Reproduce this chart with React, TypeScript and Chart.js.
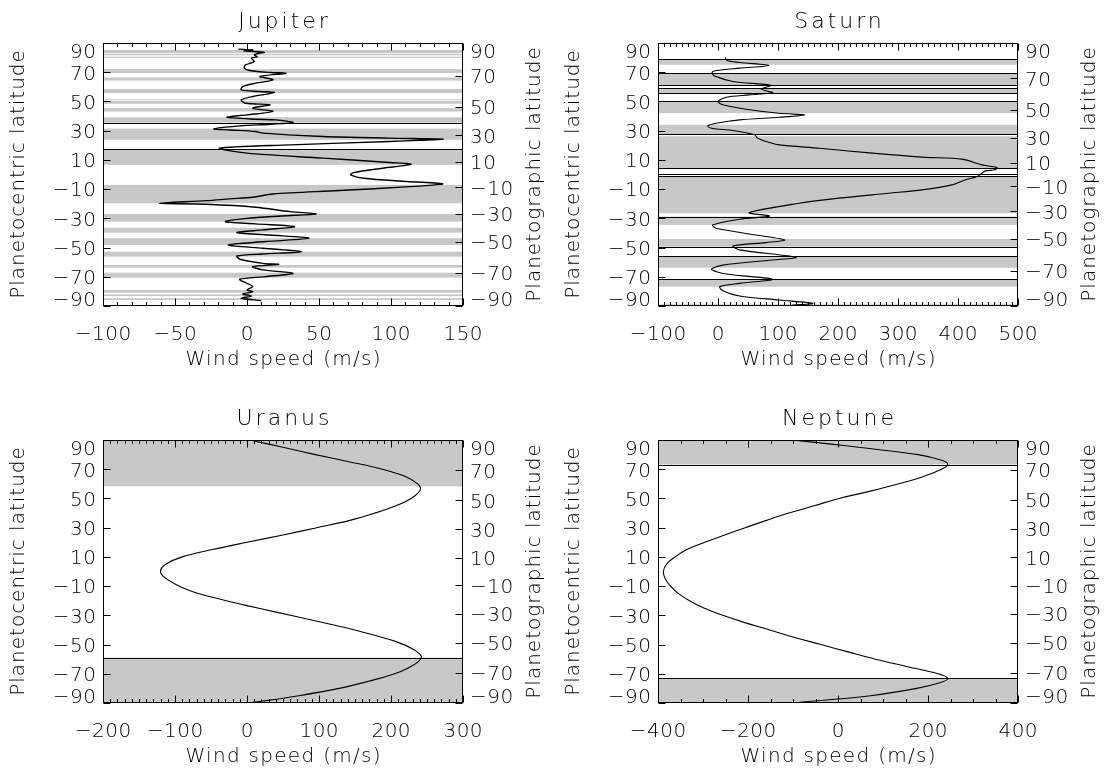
import { useEffect, useRef } from "react";
import { Chart, registerables } from "chart.js";

Chart.register(...registerables);

// ---------------- Jupiter ----------------
const jupiterLat = [
  85.8, 85.2, 84.6, 83.6, 82.9, 81.9, 80.6, 79.6, 77.3, 75.0, 72.8, 71.2, 69.8, 69.3, 67.1, 64.8,
  62.5, 60.2, 57.9, 56.8, 56.1, 53.4, 51.1, 48.8, 47.7, 45.4, 43.2, 40.8, 39.2, 37.8, 37.4, 35.6,
  34.4, 33.3, 31.2, 30.5, 29.4, 28.3, 26.0, 24.9, 24.2, 23.4, 22.6, 20.3, 18.0, 14.6, 11.2, 8.2,
  7.0, 4.3, 1.3, -0.3, -2.6, -4.8, -6.4, -8.3, -11.0, -13.3, -15.6, -16.7, -17.9, -19.7, -20.4,
  -22.4, -25.4, -27.0, -28.4, -30.0, -32.2, -33.8, -35.7, -37.9, -39.8, -41.4, -43.6, -45.9, -48.2,
  -50.5, -52.8, -54.4, -55.8, -58.0, -60.8, -61.5, -63.1, -65.3, -67.6, -69.9, -71.7, -74.5, -76.7,
  -79.0, -80.2, -81.8, -83.2, -84.7, -86.3,
];
const jupiterWind = [
  -6, 4, -2, 12, 8, 5, 7, 3, 5, -1, -2, 2, 16, 27, 9, 18,
  6, -3, -4, 9, 19, 4, -4, -1, 16, 4, 18, 0, -14, 6, 20, 32,
  16, -5, -23, -12, 6, 11, 53, 99, 136, 120, 99, 30, -19, 0, 53, 99,
  114, 94, 74, 72, 81, 111, 136, 113, 64, 18, 4, -12, -28, -61, -28,
  6, 30, 48, 24, 0, -15, 6, 33, 11, -7, 16, 43, 13, -13,
  11, 38, 11, -7, -5, 11, 22, 4, 11, 32, 13, -5, 0, 4,
  0, 4, -3, 3, -4, 10,
];
const jupiterBands = [
  [83.1, 85.3], [81.6, 82.6], [79.8, 80.6], [69.4, 72.1], [64.3, 66.4], [55.7, 58.6],
  [50.8, 51.5], [48.4, 50.3], [43.1, 45.4], [35.5, 39.2], [23.7, 31.4], [6.6, 17.3],
  [-19.7, -7.1], [-32.3, -27.0], [-39.8, -36.4], [-48.2, -43.6], [-56.2, -52.8],
  [-63.8, -61.9], [-70.6, -67.2], [-80.9, -79.0], [-83.2, -82.0], [-85.9, -84.7],
];
const jupiterBoundaries = [35.3, 17.3];
const jupiterWindTicks = [-100, -50, 0, 50, 100, 150];
const jupiterMinorStep = 10;
const jupiterRadii = [71492, 66854]; // equatorial, polar (km)

// ---------------- Saturn ----------------
const saturnLat = [
  80.3, 78.0, 76.7, 74.6, 72.8, 71.2, 69.8, 67.5, 63.7, 61.0, 58.4, 56.1, 54.5, 52.9, 50.0, 47.7,
  44.7, 41.9, 40.8, 39.2, 37.4, 35.1, 33.3, 31.7, 30.1, 27.2, 24.9, 22.6, 20.3, 18.0, 14.6, 11.9,
  10.5, 6.6, 4.8, 3.2, 2.5, 0.9, -1.4, -3.7, -7.1, -10.5, -12.8, -16.2, -19.7, -26.1, -28.4,
  -30.6, -34.5, -36.8, -41.4, -44.8, -46.6, -48.9, -51.6, -56.7, -58.5, -62.0, -64.9, -68.1,
  -71.7, -74.5, -76.7, -79.5, -83.1, -85.9, -88.2, -89.3,
];
const saturnWind = [
  12, 15, 36, 85, 36, -3, -10, -6, 25, 88, 72, 91, 52, 14, 0, 8,
  47, 102, 145, 102, 36, -3, -17, -11, 25, 61, 66, 80, 102, 169, 257, 340,
  407, 440, 465, 462, 446, 440, 432, 412, 390, 340, 285, 202, 135, 52, 86,
  36, -9, -3, 63, 111, 80, 25, 36, 130, 91, 8, -11, 14,
  91, 36, 3, 8, 36, 102, 158, 124,
];
const saturnBands = [
  [75.1, 79.0], [61.2, 69.4], [55.7, 58.9], [42.0, 50.4], [27.6, 34.0], [4.3, 26.2],
  [-26.5, -1.0], [-34.5, -28.8], [-49.4, -44.1], [-63.8, -55.8], [-76.8, -71.7], [-90, -88.8],
];
const saturnBoundaries = [79.0, 69.4, 61.2, 58.9, 55.7, 50.4, 27.6, 4.3, 0.4, -1.0, -28.8, -49.4, -55.8, -71.7];
const saturnWindTicks = [-100, 0, 100, 200, 300, 400, 500];
const saturnMinorStep = 10;
const saturnRadii = [60268, 54364];

// ---------------- Uranus ----------------
const uranusLat = [
  90, 85, 80, 75, 70, 65, 60, 57, 54, 50, 45, 40, 35, 30, 25, 20, 15, 10, 5, 1,
  -3, -8, -13, -18, -23, -28, -33, -38, -43, -48, -53, -58, -62, -66, -70, -75, -80, -85, -90,
];
const uranusWind = [
  4, 50, 95, 143, 188, 220, 237, 241, 238, 228, 207, 178, 143, 97, 50, 0, -48, -90, -113, -120,
  -117, -102, -80, -45, -3, 42, 88, 133, 172, 207, 230, 242, 237, 224, 205, 170, 128, 72, 4,
];
const uranusBands = [[58.3, 90], [-90, -58.9]];
const uranusBoundaries = [-58.9];
const uranusWindTicks = [-200, -100, 0, 100, 200, 300];
const uranusMinorStep = 10;
const uranusRadii = [25559, 24973];

// ---------------- Neptune ----------------
const neptuneLat = [
  90, 87, 85, 80, 76, 73.2, 70, 65, 60, 55, 50, 45, 40, 35, 30, 25, 20, 15, 10, 5, 0,
  -5, -10, -15, -20, -25, -30, -35, -40, -45, -50, -55, -60, -65, -70, -73.2, -76, -80, -85, -90,
];
const neptuneWind = [
  -102, -10, 45, 178, 232, 244, 230, 190, 135, 72, 2, -53, -109, -159, -206, -252, -296, -336, -362, -381, -388,
  -384, -372, -355, -330, -298, -256, -207, -152, -98, -38, 22, 83, 152, 222, 244, 228, 175, 72, -102,
];
const neptuneBands = [[73.2, 90], [-90, -73.2]];
const neptuneBoundaries = [73.2, -73.2];
const neptuneWindTicks = [-400, -200, 0, 200, 400];
const neptuneMinorStep = 50;
const neptuneRadii = [24764, 24341];

// Latitude tick labels shared by both vertical axes
const latitudeTicks = [90, 70, 50, 30, 10, -10, -30, -50, -70, -90];

// ---------------- styling ----------------
const FONT = "'DejaVu Sans', sans-serif";
const FONT_WEIGHT = 300;
const TEXT_COLOR = "#000";
const BAND_COLOR = "#c8c8c8";
const PANEL_W = 555;
const PANEL_H = 397;
const PLOT_LEFT = 103;
const PLOT_RIGHT_GAP = 92;
const PLOT_TOP = 43;
const PLOT_BOTTOM_GAP = 91;

const TICK_FONT = 20;
const AXIS_FONT = 20;
const TITLE_FONT = 22;

type Panel = {
  name: string;
  lat: number[];
  wind: number[];
  bands: number[][];
  boundaries: number[];
  windTicks: number[];
  minorStep: number;
  radii: number[];
  tension: number;
  lineWidth: number;
};

const PANELS: Panel[] = [
  { name: "Jupiter", lat: jupiterLat, wind: jupiterWind, bands: jupiterBands, boundaries: jupiterBoundaries,
    windTicks: jupiterWindTicks, minorStep: jupiterMinorStep, radii: jupiterRadii, tension: 0.3, lineWidth: 1.4 },
  { name: "Saturn", lat: saturnLat, wind: saturnWind, bands: saturnBands, boundaries: saturnBoundaries,
    windTicks: saturnWindTicks, minorStep: saturnMinorStep, radii: saturnRadii, tension: 0.3, lineWidth: 1.1 },
  { name: "Uranus", lat: uranusLat, wind: uranusWind, bands: uranusBands, boundaries: uranusBoundaries,
    windTicks: uranusWindTicks, minorStep: uranusMinorStep, radii: uranusRadii, tension: 0.4, lineWidth: 1.1 },
  { name: "Neptune", lat: neptuneLat, wind: neptuneWind, bands: neptuneBands, boundaries: neptuneBoundaries,
    windTicks: neptuneWindTicks, minorStep: neptuneMinorStep, radii: neptuneRadii, tension: 0.4, lineWidth: 1.1 },
];

// planetographic latitude -> planetocentric latitude for an oblate planet
function toCentric(graphic: number, radii: number[]): number {
  if (Math.abs(graphic) >= 90) return graphic;
  const f = (radii[1] / radii[0]) ** 2;
  return (Math.atan(Math.tan((graphic * Math.PI) / 180) * f) * 180) / Math.PI;
}

function fmt(v: number): string {
  return v < 0 ? "\u2212" + Math.abs(v) : String(v);
}

function drawText(
  ctx: CanvasRenderingContext2D, s: string, x: number, y: number,
  size: number, spacing: number, align: CanvasTextAlign, angle = 0,
) {
  ctx.save();
  ctx.translate(x, y);
  if (angle) ctx.rotate(angle);
  ctx.font = `${FONT_WEIGHT} ${size}px ${FONT}`;
  (ctx as any).letterSpacing = `${spacing}px`;
  ctx.textAlign = align;
  ctx.textBaseline = "alphabetic";
  ctx.fillStyle = TEXT_COLOR;
  // letter spacing leaves a trailing gap after the last glyph
  const dx = align === "center" ? spacing / 2 : align === "right" ? spacing : 0;
  ctx.fillText(s, dx, 0);
  ctx.restore();
}

function decorPlugin(panel: Panel) {
  return {
    id: "panelDecor",
    beforeDatasetsDraw(chart: any) {
      const { ctx, chartArea: a, scales } = chart;
      const y = scales.y;
      ctx.save();
      ctx.fillStyle = BAND_COLOR;
      for (const [lo, hi] of panel.bands) {
        const y1 = y.getPixelForValue(hi);
        const y2 = y.getPixelForValue(lo);
        ctx.fillRect(a.left, y1, a.right - a.left, y2 - y1);
      }
      ctx.strokeStyle = "#000";
      ctx.lineWidth = 1.1;
      for (const lat of panel.boundaries) {
        const py = Math.round(y.getPixelForValue(lat)) + 0.5;
        ctx.beginPath();
        ctx.moveTo(a.left, py);
        ctx.lineTo(a.right, py);
        ctx.stroke();
      }
      ctx.restore();
    },
    afterDatasetsDraw(chart: any) {
      const { ctx, chartArea: a, scales } = chart;
      const x = scales.x;
      const y = scales.y;
      const y2 = scales.y2;
      const L = Math.round(a.left) + 0.5;
      const R = Math.round(a.right) - 0.5;
      const T = Math.round(a.top) + 0.5;
      const B = Math.round(a.bottom) - 0.5;
      ctx.save();
      ctx.strokeStyle = "#000";
      ctx.lineWidth = 1;
      ctx.strokeRect(L, T, R - L, B - T);

      ctx.beginPath();
      // wind speed ticks, bottom and top, pointing inward
      const xMin = x.min;
      const xMax = x.max;
      for (let v = xMin; v <= xMax + 1e-9; v += panel.minorStep) {
        const px = Math.round(x.getPixelForValue(v)) + 0.5;
        const len = panel.windTicks.includes(v) ? 7 : 3.5;
        ctx.moveTo(px, B);
        ctx.lineTo(px, B - len);
        ctx.moveTo(px, T);
        ctx.lineTo(px, T + len);
      }
      // planetocentric ticks on the left
      for (const lat of latitudeTicks) {
        const py = Math.round(y.getPixelForValue(lat)) + 0.5;
        ctx.moveTo(L, py);
        ctx.lineTo(L + 7, py);
      }
      // planetographic ticks on the right
      for (const lat of latitudeTicks) {
        const py = Math.round(y2.getPixelForValue(toCentric(lat, panel.radii))) + 0.5;
        ctx.moveTo(R, py);
        ctx.lineTo(R - 7, py);
      }
      ctx.stroke();
      ctx.restore();

      const half = TICK_FONT * 0.365;
      const clampY = (py: number) => Math.min(Math.max(py, a.top + 8), a.bottom - 7);
      for (const v of panel.windTicks) {
        drawText(ctx, fmt(v), x.getPixelForValue(v), a.bottom + 34, TICK_FONT, 0.5, "center");
      }
      for (const lat of latitudeTicks) {
        const py = clampY(y.getPixelForValue(lat));
        drawText(ctx, fmt(lat), a.left - 7, py + half, TICK_FONT, 0.5, "right");
        const pr = clampY(y2.getPixelForValue(toCentric(lat, panel.radii)));
        drawText(ctx, fmt(lat), a.right + 7, pr + half, TICK_FONT, 0.5, "left");
      }
      const midX = (a.left + a.right) / 2;
      const midY = (a.top + a.bottom) / 2;
      const lift = AXIS_FONT * 0.26;
      drawText(ctx, "Wind speed (m/s)", midX, a.bottom + 59, AXIS_FONT, 1.3, "center");
      drawText(ctx, "Planetocentric latitude", a.left - 84 + lift, midY, AXIS_FONT, 1.0, "center", -Math.PI / 2);
      drawText(ctx, "Planetographic latitude", a.right + 72 + lift, midY, AXIS_FONT, 1.0, "center", -Math.PI / 2);
      drawText(ctx, panel.name, midX, a.top - 15, TITLE_FONT, 3, "center");
    },
  };
}

function PanelChart({ panel, left, top }: { panel: Panel; left: number; top: number }) {
  const ref = useRef<HTMLCanvasElement>(null);
  useEffect(() => {
    if (!ref.current) return;
    const ticks = panel.windTicks;
    const chart = new Chart(ref.current, {
      type: "scatter",
      data: {
        datasets: [
          {
            data: panel.lat.map((lat, i) => ({ x: panel.wind[i], y: lat })),
            showLine: true,
            borderColor: "#000",
            borderWidth: panel.lineWidth,
            pointRadius: 0,
            tension: panel.tension,
            fill: false,
          },
        ],
      },
      options: {
        responsive: false,
        animation: false,
        events: [],
        layout: { padding: { top: PLOT_TOP, left: 0, right: 0, bottom: 0 } },
        plugins: { legend: { display: false }, tooltip: { enabled: false }, title: { display: false } },
        scales: {
          x: {
            type: "linear",
            position: "bottom",
            min: ticks[0],
            max: ticks[ticks.length - 1],
            ticks: { display: false },
            grid: { display: false },
            border: { display: false },
            afterFit: (s: any) => { s.height = PLOT_BOTTOM_GAP; },
          },
          y: {
            type: "linear",
            position: "left",
            min: -90,
            max: 90,
            ticks: { display: false },
            grid: { display: false },
            border: { display: false },
            afterFit: (s: any) => { s.width = PLOT_LEFT; },
          },
          y2: {
            type: "linear",
            position: "right",
            min: -90,
            max: 90,
            ticks: { display: false },
            grid: { display: false },
            border: { display: false },
            afterFit: (s: any) => { s.width = PLOT_RIGHT_GAP; },
          },
        },
      } as any,
      plugins: [decorPlugin(panel)],
    });
    return () => chart.destroy();
  }, [panel]);
  return (
    <canvas
      ref={ref}
      width={PANEL_W}
      height={PANEL_H}
      style={{ position: "absolute", left, top, width: PANEL_W, height: PANEL_H }}
    />
  );
}

export default function App() {
  return (
    <div
      style={{
        position: "fixed", left: 0, top: 0, width: 1110, height: 773,
        background: "#fff", overflow: "hidden",
      }}
    >
      {PANELS.map((p, i) => (
        <PanelChart key={p.name} panel={p} left={(i % 2) * PANEL_W} top={Math.floor(i / 2) * PANEL_H} />
      ))}
    </div>
  );
}
